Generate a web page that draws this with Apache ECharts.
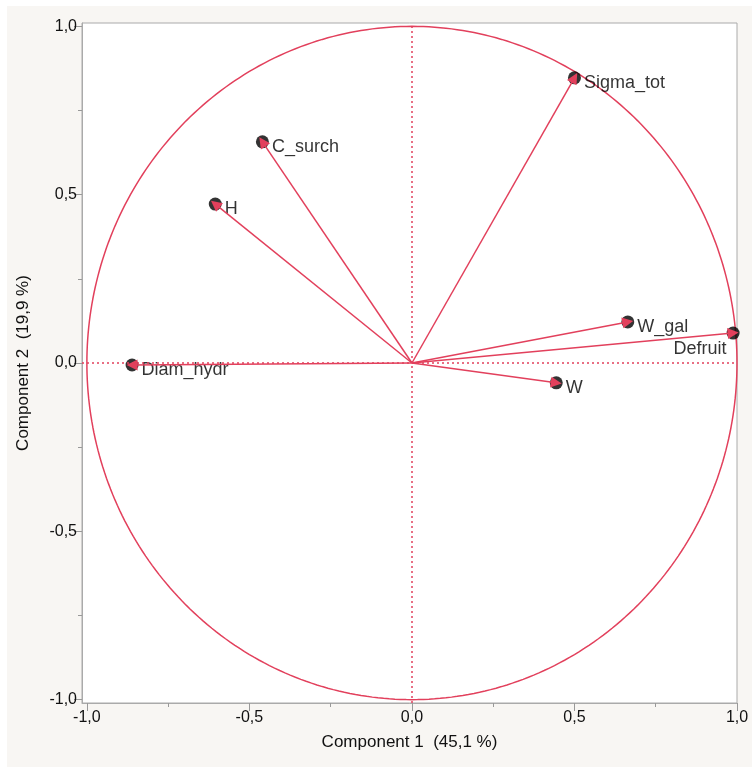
<!DOCTYPE html>
<html>
<head>
<meta charset="utf-8">
<script src="https://cdn.jsdelivr.net/npm/echarts@6/dist/echarts.min.js"></script>
<style>
html,body{margin:0;padding:0;background:#fff;}
#chart{width:752px;height:767px;}
</style>
</head>
<body>
<div id="chart"></div>
<script>
// Data
const variables = ['Sigma_tot', 'C_surch', 'H', 'Diam_hydr', 'W_gal', 'Defruit', 'W'];
const comp1 = [0.500, -0.460, -0.605, -0.861, 0.664, 0.988, 0.444];
const comp2 = [0.847, 0.657, 0.472, -0.006, 0.122, 0.089, -0.059];
const majorTicks = [-1, -0.5, 0, 0.5, 1];
const minorTicks = [-0.75, -0.25, 0.25, 0.75];
const xTitle = 'Component 1  (45,1 %)';
const yTitle = 'Component 2  (19,9 %)';

const RED = '#e2405c';
const FONT = 'Liberation Sans, Arial, sans-serif';
const fmt = v => v.toFixed(1).replace('.', ',');

// unit circle (reference shape)
const circle = [];
for (let a = 0; a <= 360; a += 1) {
  const r = a * Math.PI / 180;
  circle.push([Math.cos(r), Math.sin(r)]);
}

const labelOverrides = {
  'Defruit': { position: 'left', offset: [4, 16], distance: 4 }
};

const pts = variables.map((n, i) => {
  const item = { name: n, value: [comp1[i], comp2[i]] };
  if (labelOverrides[n]) item.label = labelOverrides[n];
  return item;
});

const arrows = variables.map((n, i) => ({ coords: [[0, 0], [comp1[i], comp2[i]]] }));

const chart = echarts.init(document.getElementById('chart'));
const axisCommon = {
  axisLine: { show: true, onZero: false, lineStyle: { color: '#aaa', width: 1 } },
  splitLine: { show: false },
};
chart.setOption({
  animation: false,
  backgroundColor: '#fff',
  graphic: [{
    type: 'rect', z: -10, silent: true,
    shape: { x: 7, y: 6, width: 745, height: 761 },
    style: { fill: '#f8f6f3' }
  }],
  grid: {
    left: 82, right: 15, top: 23, bottom: 64,
    show: true, backgroundColor: '#fff', borderColor: '#aaa', borderWidth: 1
  },
  xAxis: [{
    type: 'value', min: -1.015, max: 1.0, position: 'bottom',
    ...axisCommon,
    axisTick: { show: true, customValues: majorTicks, length: 8, lineStyle: { color: '#999' } },
    axisLabel: { customValues: majorTicks, formatter: fmt, color: '#111', fontSize: 16, margin: 7,
      fontFamily: FONT },
    name: xTitle, nameLocation: 'middle', nameGap: 31,
    nameTextStyle: { color: '#111', fontSize: 17, fontFamily: FONT }
  }, {
    type: 'value', min: -1.015, max: 1.0, position: 'bottom',
    axisLine: { show: false, onZero: false }, splitLine: { show: false },
    axisTick: { show: true, customValues: minorTicks, length: 4, lineStyle: { color: '#999' } },
    axisLabel: { show: false }
  }],
  yAxis: [{
    type: 'value', min: -1.01, max: 1.01, position: 'left',
    ...axisCommon,
    axisTick: { show: true, customValues: majorTicks, length: 8, lineStyle: { color: '#999' } },
    axisLabel: { customValues: majorTicks, formatter: fmt, color: '#111', fontSize: 16, margin: 5,
      fontFamily: FONT },
    name: yTitle, nameLocation: 'middle', nameGap: 50, nameRotate: 90,
    nameTextStyle: { color: '#111', fontSize: 17, fontFamily: FONT }
  }, {
    type: 'value', min: -1.01, max: 1.01, position: 'left',
    axisLine: { show: false, onZero: false }, splitLine: { show: false },
    axisTick: { show: true, customValues: minorTicks, length: 4, lineStyle: { color: '#999' } },
    axisLabel: { show: false }
  }],
  series: [{
    type: 'line', data: circle, showSymbol: false, symbol: 'none', silent: true,
    lineStyle: { color: RED, width: 1.5 },
    markLine: {
      silent: true, symbol: ['none', 'none'], label: { show: false },
      lineStyle: { color: RED, type: [2, 3], width: 1.5 },
      data: [{ xAxis: 0 }, { yAxis: 0 }]
    }
  }, {
    type: 'scatter', data: pts, symbol: 'circle', symbolSize: 13, z: 3,
    itemStyle: { color: '#000' },
    label: {
      show: true, position: 'right', distance: 3, offset: [0, 5],
      formatter: p => p.name, color: '#000', fontSize: 18,
      fontFamily: FONT
    }
  }, {
    type: 'lines', coordinateSystem: 'cartesian2d', data: arrows, z: 4,
    symbol: ['none', 'triangle'], symbolSize: 11,
    lineStyle: { color: RED, width: 1.5, opacity: 1 }
  }]
});
</script>
</body>
</html>
